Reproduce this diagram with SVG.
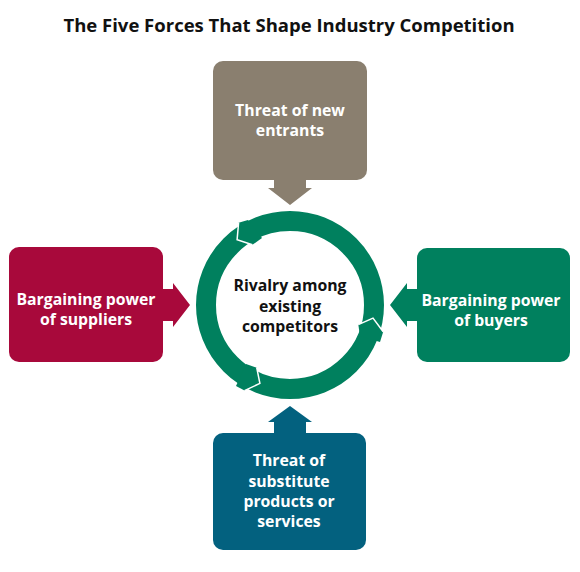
<svg xmlns="http://www.w3.org/2000/svg" width="580" height="572" viewBox="0 0 580 572">
<style>
.t{font-family:"Open Sans","Liberation Sans",sans-serif;font-weight:700;font-size:15.8px;text-anchor:middle}
.w{fill:#ffffff}
.k{fill:#111111}
.title{font-family:"Open Sans","Liberation Sans",sans-serif;font-weight:700;font-size:18.5px;text-anchor:middle;fill:#111111}
.taupe{fill:#8a7f6f}
.crim{fill:#a8093b}
.grn{fill:#00805e}
.blu{fill:#03617f}
.sep{fill:none;stroke:#ffffff;stroke-width:1.5;stroke-linejoin:miter}
</style>
<rect width="580" height="572" fill="#ffffff"/>
<text class="title" x="289" y="32">The Five Forces That Shape Industry Competition</text>

<g id="connectors">
  <polygon class="taupe" points="274,178 306,178 306,188 312,188 290,205 268,188 274,188"/>
  <polygon class="crim" points="161,289 173,289 173,283 190,305 173,327 173,321 161,321"/>
  <polygon class="grn" points="419,289 407,289 407,283 390,305 407,327 407,321 419,321"/>
  <polygon class="blu" points="274,435 274,422 268,422 290,406 312,422 306,422 306,435"/>
</g>

<g id="node-new-entrants">
  <rect class="taupe" x="213" y="61" width="154" height="119" rx="10"/>
  <text class="t w" x="290" y="116">Threat of new</text>
  <text class="t w" x="290" y="136">entrants</text>
</g>

<g id="node-suppliers">
  <rect class="crim" x="9" y="247" width="154" height="115" rx="10"/>
  <text class="t w" x="86" y="305">Bargaining power</text>
  <text class="t w" x="86" y="325">of suppliers</text>
</g>

<g id="node-buyers">
  <rect class="grn" x="417" y="248" width="153" height="114" rx="10"/>
  <text class="t w" x="491" y="306">Bargaining power</text>
  <text class="t w" x="491" y="326">of buyers</text>
</g>

<g id="node-substitutes">
  <rect class="blu" x="213" y="433" width="153" height="117" rx="10"/>
  <text class="t w" x="289" y="466">Threat of</text>
  <text class="t w" x="289" y="487">substitute</text>
  <text class="t w" x="289" y="507">products or</text>
  <text class="t w" x="289" y="527">services</text>
</g>

<g id="node-rivalry">
  <circle cx="290" cy="305" r="84" fill="none" stroke="#00805e" stroke-width="20"/>
  <polygon class="grn" points="238.6,222.7 237.1,239.7 252.4,244.8 262,238 248,220"/>
  <polyline class="sep" points="238.6,222.7 237.1,239.7 252.4,244.8"/>
  <polygon class="grn" points="383.2,331.7 373.0,318.1 358.3,324.6 360,336 380,342"/>
  <polyline class="sep" points="383.2,331.7 373.0,318.1 358.3,324.6"/>
  <polygon class="grn" points="244.5,390.6 259.9,383.4 256.7,367.7 246,364 236,386"/>
  <polyline class="sep" points="244.5,390.6 259.9,383.4 256.7,367.7"/>
  <text class="t k" x="290" y="291">Rivalry among</text>
  <text class="t k" x="290" y="312">existing</text>
  <text class="t k" x="290" y="332">competitors</text>
</g>
</svg>
